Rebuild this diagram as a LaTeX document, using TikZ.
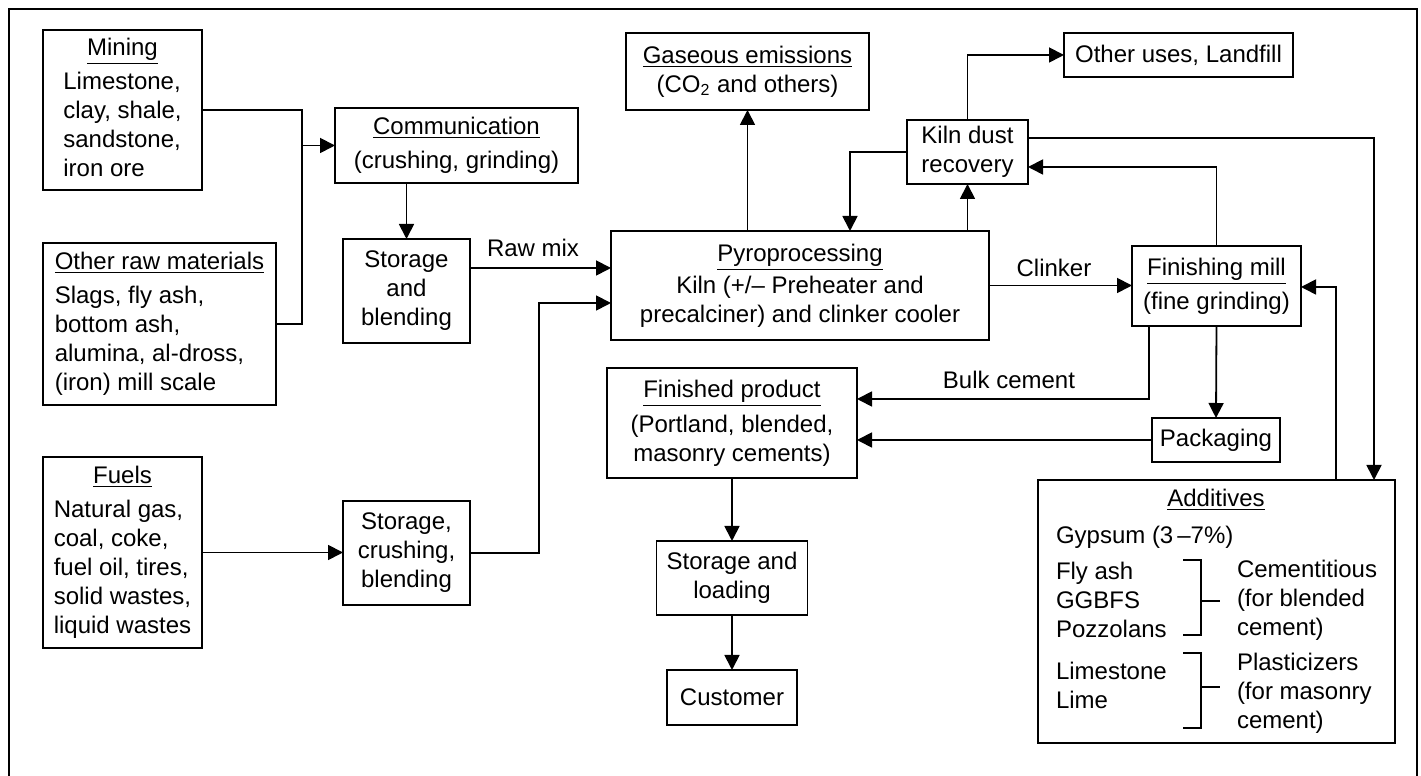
\documentclass[tikz,border=0pt]{standalone}
\usepackage{fontspec}
\setmainfont{Liberation Sans}
\usetikzlibrary{arrows.meta}

\begin{document}
\begin{tikzpicture}[x=0.5pt,y=0.5pt,
    line width=0.9pt, line join=miter,
    every node/.style={inner sep=0pt,outer sep=0pt,font=\fontsize{12}{14.5}\selectfont},
    box/.style={draw,align=center},
    lab/.style={align=left},
    arr/.style={-{Triangle[length=7.5pt,width=7.5pt]}}]
  \useasboundingbox (0,0) rectangle (1421,776);
  % ---- frame (runs off the bottom edge) ----
  \draw (9,0) -- (9,767) -- (1417,767) -- (1417,0);
  % ---- raw material and fuel sources ----
  \node[box,minimum width=79.5pt,minimum height=80pt] (mining) at (122.5,666)
    {\begin{tabular}{@{}l@{}}\multicolumn{1}{@{}c@{}}{\underline{Mining}}\\[2.5pt]
     Limestone,\\ clay, shale,\\ sandstone,\\ iron ore\end{tabular}};
  \node[box,minimum width=116.5pt,minimum height=81pt] (otherraw) at (159.5,452)
    {\begin{tabular}{@{}l@{}}\underline{Other raw materials}\\[2.5pt]
     Slags, fly ash,\\ bottom ash,\\ alumina, al-dross,\\ (iron) mill scale\end{tabular}};
  \node[box,minimum width=79.5pt,minimum height=95.5pt] (fuels) at (122.5,223.5)
    {\begin{tabular}{@{}l@{}}\multicolumn{1}{@{}c@{}}{\underline{Fuels}}\\[2.5pt]
     Natural gas,\\ coal, coke,\\ fuel oil, tires,\\ solid wastes,\\ liquid wastes\end{tabular}};
  % ---- preparation ----
  \node[box,minimum width=121.5pt,minimum height=37.5pt] (comm) at (456.5,630.5)
    {\underline{Communication}\\[2.5pt](crushing, grinding)};
  \node[box,minimum width=63.5pt,minimum height=52pt] (storblend) at (406.5,485)
    {Storage\\and\\blending};
  \node[box,minimum width=63.5pt,minimum height=52pt] (storcrush) at (406.5,223)
    {Storage,\\crushing,\\blending};
  % ---- kiln and its outputs ----
  \node[box,minimum width=121.5pt,minimum height=38.5pt] (gas) at (747.5,704.5)
    {\underline{Gaseous emissions}\\(CO\textsubscript{2} and others)};
  \node[box,minimum width=189pt,minimum height=54.5pt] (pyro) at (800,490.5)
    {\underline{Pyroprocessing}\\[1.5pt]Kiln (+/– Preheater and\\precalciner) and clinker cooler};
  \node[box,minimum width=60.5pt,minimum height=32pt] (dust) at (967.5,624)
    {Kiln dust\\recovery};
  \node[box,minimum width=114.5pt,minimum height=22pt] (landfill) at (1178.5,721)
    {Other uses, Landfill};
  \node[box,minimum width=84.5pt,minimum height=40pt] (mill) at (1216.5,490)
    {\underline{Finishing mill}\\[2.5pt](fine grinding)};
  % ---- product side ----
  \node[box,minimum width=125pt,minimum height=55pt] (product) at (732,353)
    {\underline{Finished product}\\[3pt](Portland, blended,\\masonry cements)};
  \node[box,minimum width=75.5pt,minimum height=37pt] (loading) at (732,198)
    {Storage and\\loading};
  \node[box,minimum width=65pt,minimum height=27.5pt] (customer) at (732,78.5)
    {Customer};
  \node[box,minimum width=64pt,minimum height=22pt] (packaging) at (1216,336)
    {Packaging};
  % ---- additives box ----
  \node[box,minimum width=178.5pt,minimum height=131.5pt] (additives) at (1216.5,164.5) {};
  \node (addhead) at (1216,276) {\underline{Additives}};
  \node[anchor=west] (gypsum) at (1056,239) {Gypsum (3\,–7\%)};
  \node[lab,anchor=west] (cemleft) at (1056,176) {Fly ash\\GGBFS\\Pozzolans};
  \node[lab,anchor=west] (cemright) at (1237,176) {Cementitious\\(for blended\\cement)};
  \node[lab,anchor=west] (plasleft) at (1056,91) {Limestone\\Lime};
  \node[lab,anchor=west] (plasright) at (1237,83) {Plasticizers\\(for masonry\\cement)};
  \draw (1183,216) -- (1201,216) -- (1201,141) -- (1183,141) (1201,175) -- (1220,175);
  \draw (1183,123) -- (1201,123) -- (1201,48) -- (1183,48) (1201,89) -- (1220,89);
  % ---- junction points ----
  \coordinate (joinraw) at (302,630.5);
  \coordinate (rawmix)  at (470,508);
  \coordinate (fuelup)  at (539,473);
  \coordinate (dustback) at (850,624);
  \coordinate (dustout) at (1374,638);
  \coordinate (millup)  at (1216.5,609);
  \coordinate (addup)   at (1336,489);
  \coordinate (bulk)    at (1149,377);
  % ---- flow lines ----
  \draw (mining.east) -| (joinraw) |- (otherraw.east);
  \draw[arr] (joinraw) -- (comm.west);
  \draw[arr] (comm.south -| storblend.north) -- (storblend.north);
  \draw[arr] (rawmix) -- (rawmix -| pyro.west);
  \draw[arr] (fuels.east) -- (fuels.east -| storcrush.west);
  \draw[arr] (storcrush.east) -| (fuelup) -- (fuelup -| pyro.west);
  \draw[arr] (pyro.north -| gas.south) -- (gas.south);
  \draw[arr] (dust.west) -- (dustback) -- (dustback |- pyro.north);
  \draw[arr] (dust.south |- pyro.north) -- (dust.south);
  \draw[arr] (dust.north) |- (landfill.west);
  \draw[arr] (dustout -| dust.east) -- (dustout) -- (dustout |- additives.north);
  \draw[arr] (mill.north) -- (millup) -- (millup -| dust.east);
  \draw[arr] (pyro.east) -- (pyro.east -| mill.west);
  \draw[arr] (addup |- additives.north) -- (addup) -- (addup -| mill.east);
  \draw[arr] (bulk |- mill.south) -- (bulk) -- (bulk -| product.east);
  \draw[arr] (mill.south) -- (packaging.north);
  \draw[arr] (packaging.west) -- (packaging.west -| product.east);
  \draw[arr] (product.south) -- (loading.north);
  \draw[arr] (loading.south) -- (customer.north);
  % ---- flow labels ----
  \node (lblraw)  at (533,528)  {Raw mix};
  \node (lblclk)  at (1054,508) {Clinker};
  \node (lblbulk) at (1009,396) {Bulk cement};
\end{tikzpicture}
\end{document}
